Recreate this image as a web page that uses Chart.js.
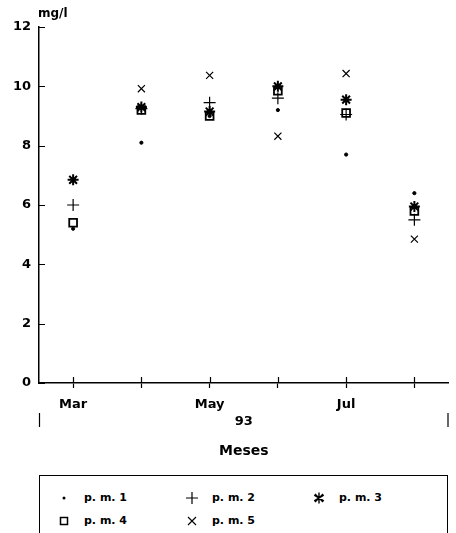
<!DOCTYPE html>
<html>
<head>
<meta charset="utf-8">
<script src="https://cdn.jsdelivr.net/npm/chart.js@4"></script>
<style>
  body { margin: 0; background: #fff; width: 456px; height: 533px; position: relative; overflow: hidden; }
  #wrap { position: absolute; left: 0; top: 0; width: 456px; height: 460px; }
  #legend {
    position: absolute; left: 39px; top: 475px; width: 409px; height: 70px;
    border: 1.5px solid #000; border-bottom: none; box-sizing: border-box;
    font: bold 11px "DejaVu Sans", sans-serif; color: #000;
  }
  .item { position: absolute; height: 14px; }
  .mk { position: absolute; left: 0; top: 0; width: 14px; height: 14px; }
  .tx { position: absolute; left: 27px; top: 0; line-height: 14px; white-space: nowrap; }
</style>
</head>
<body>
<div id="wrap"><canvas id="chartScatter"></canvas></div>
<div id="legend"></div>
<script>
const months = ["Mar", "Apr", "May", "Jun", "Jul", "Aug"];
const shownMonths = ["Mar", "May", "Jul"];
const yTicks = [0, 2, 4, 6, 8, 10, 12];
const seriesNames = ["p. m. 1", "p. m. 2", "p. m. 3", "p. m. 4", "p. m. 5"];
const pm1 = [5.2, 8.1, 9.0, 9.2, 7.7, 6.4];
const pm2 = [6.0, 9.25, 9.45, 9.6, 9.05, 5.5];
const pm3 = [6.85, 9.3, 9.15, 10.0, 9.55, 5.95];
const pm4 = [5.4, 9.2, 9.0, 9.85, 9.1, 5.8];
const pm5 = [6.85, 9.92, 10.37, 8.32, 10.43, 4.85];
const yearLabel = "93";
const xTitle = "Meses";
const yUnit = "mg/l";

const styles = [
    { pointStyle: "circle", radius: 1.6, width: 1 },
    { pointStyle: "cross", radius: 6, width: 1.2 },
    { pointStyle: "star", radius: 5.5, width: 2 },
    { pointStyle: "rect", radius: 5.5, width: 1.8 },
    { pointStyle: "crossRot", radius: 5, width: 1.2 },
];
// small svg markers for the legend box
const legendMarks = [
    '<circle cx="7" cy="7" r="1.5" fill="#000"/>',
    '<path d="M7 1V13M1 7H13" stroke="#000" stroke-width="1.2"/>',
    '<path d="M7 1.5V12.5M2.2 4.2L11.8 9.8M2.2 9.8L11.8 4.2M3 3L11 11M3 11L11 3" stroke="#000" stroke-width="1.4"/>',
    '<rect x="3.5" y="3.5" width="7" height="7" fill="none" stroke="#000" stroke-width="1.5"/>',
    '<path d="M3 3L11 11M3 11L11 3" stroke="#000" stroke-width="1.1"/>',
];
const allSeries = [pm1, pm2, pm3, pm4, pm5];

const datasets = allSeries.map((values, i) => ({
    label: seriesNames[i],
    data: values,
    showLine: false,
    pointStyle: styles[i].pointStyle,
    pointRadius: styles[i].radius,
    pointHoverRadius: styles[i].radius,
    pointBorderWidth: styles[i].width,
    borderColor: "#000",
    backgroundColor: i === 0 ? "#000" : "rgba(0,0,0,0)",
}));

// inward tick marks, year bracket and unit label
const extras = {
    id: "extras",
    afterDraw(chart) {
        const { ctx, chartArea, scales } = chart;
        ctx.save();
        ctx.strokeStyle = "#000";
        ctx.lineWidth = 1.2;
        ctx.beginPath();
        yTicks.forEach(v => {
            const y = Math.round(scales.y.getPixelForValue(v)) + 0.5;
            ctx.moveTo(chartArea.left, y);
            ctx.lineTo(chartArea.left + 6, y);
        });
        months.forEach((m, i) => {
            const x = Math.round(scales.x.getPixelForValue(i)) + 0.5;
            ctx.moveTo(x, chartArea.bottom);
            ctx.lineTo(x, chartArea.bottom - 6);
        });
        // year bracket
        ctx.moveTo(chartArea.left + 0.5, chartArea.bottom + 30);
        ctx.lineTo(chartArea.left + 0.5, chartArea.bottom + 44);
        ctx.moveTo(chartArea.right - 0.5, chartArea.bottom + 30);
        ctx.lineTo(chartArea.right - 0.5, chartArea.bottom + 44);
        ctx.stroke();
        ctx.fillStyle = "#000";
        ctx.textAlign = "center";
        ctx.textBaseline = "middle";
        ctx.font = 'bold 13px "DejaVu Sans", sans-serif';
        ctx.fillText(yearLabel, (chartArea.left + chartArea.right) / 2, chartArea.bottom + 39);
        ctx.textAlign = "left";
        ctx.font = 'bold 12px "DejaVu Sans", sans-serif';
        ctx.fillText(yUnit, chartArea.left - 1, 14);
        ctx.restore();
    }
};

const ctx = document.getElementById("chartScatter").getContext("2d");
new Chart(ctx, {
    type: "line",
    data: { labels: months, datasets: datasets },
    plugins: [extras],
    options: {
        responsive: true,
        maintainAspectRatio: false,
        animation: false,
        layout: { padding: { left: 0, right: 7, top: 27, bottom: 0 } },
        scales: {
            x: {
                offset: true,
                border: { color: "#000", width: 1.5 },
                grid: { display: true, drawOnChartArea: false, color: "#000", tickLength: 5, tickWidth: 1.2 },
                ticks: {
                    color: "#000",
                    padding: 9,
                    maxRotation: 0,
                    autoSkip: false,
                    font: { family: '"DejaVu Sans", sans-serif', size: 13, weight: "bold" },
                    callback: function (value, index) {
                        const m = months[index];
                        return shownMonths.includes(m) ? m : "";
                    }
                },
                title: {
                    display: true,
                    text: xTitle,
                    color: "#000",
                    padding: { top: 30, bottom: 0 },
                    font: { family: '"DejaVu Sans", sans-serif', size: 14, weight: "bold" }
                },
                afterFit: function (scale) { scale.height = 77; }
            },
            y: {
                min: 0,
                max: 12,
                afterBuildTicks: function (scale) { scale.ticks = yTicks.map(v => ({ value: v })); },
                border: { color: "#000", width: 1.5 },
                grid: { display: false, drawTicks: false },
                ticks: {
                    color: "#000",
                    padding: 8,
                    font: { family: '"DejaVu Sans", sans-serif', size: 13, weight: "bold" }
                },
                afterFit: function (scale) { scale.width = 39; }
            }
        },
        plugins: {
            legend: { display: false },
            tooltip: { enabled: false }
        }
    }
});

// legend box below the chart
const legendEl = document.getElementById("legend");
const colX = [17, 145, 272];
const rowY = [22, 45];
seriesNames.forEach((name, i) => {
    const item = document.createElement("div");
    item.className = "item";
    item.style.left = colX[i % 3] + "px";
    item.style.top = (rowY[Math.floor(i / 3)] - 7) + "px";
    item.innerHTML = '<svg class="mk" width="14" height="14">' + legendMarks[i] + '</svg><span class="tx">' + name + '</span>';
    legendEl.appendChild(item);
});
</script>
</body>
</html>
